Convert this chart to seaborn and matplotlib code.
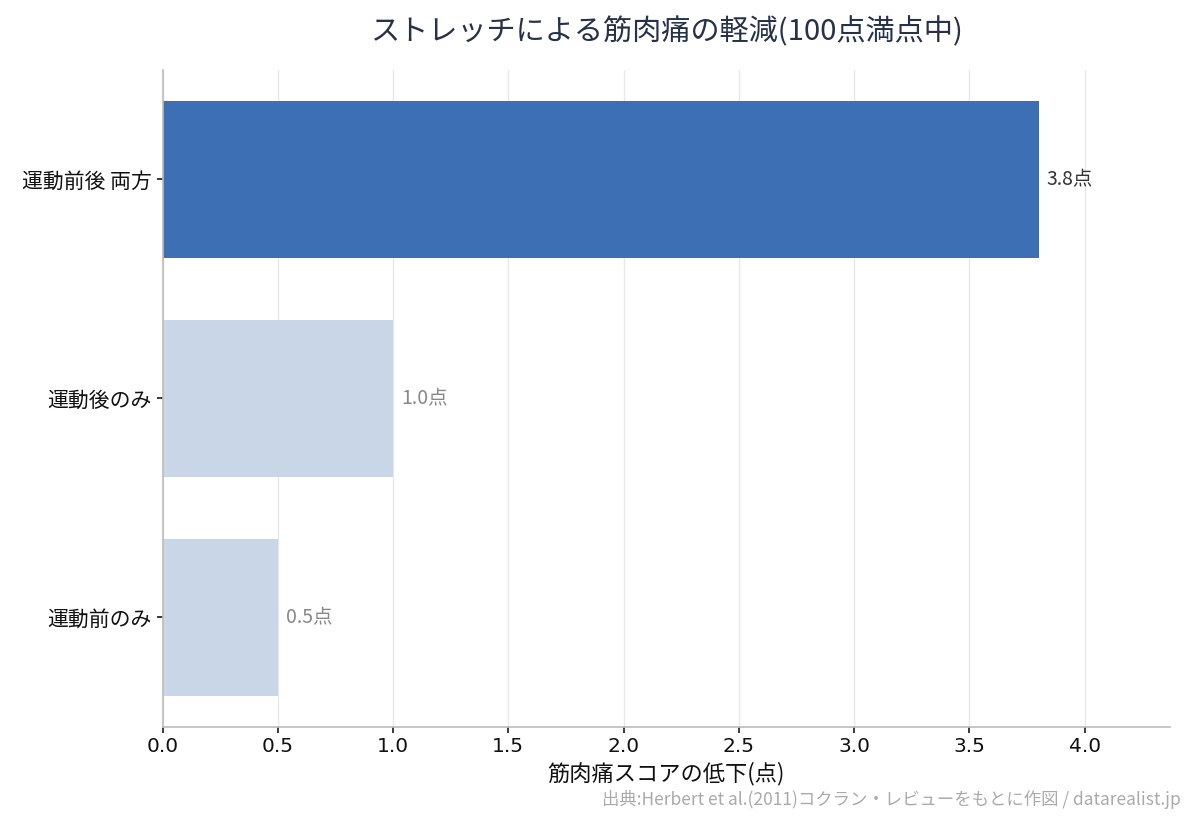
import numpy as np
import pandas as pd
import matplotlib
matplotlib.use('Agg')
import matplotlib.pyplot as plt
import seaborn as sns

# データ
categories = ['運動前後 両方', '運動後のみ', '運動前のみ']
values = [3.8, 1.0, 0.5]
label_texts = ['3.8点', '1.0点', '0.5点']
bar_colors = ['#3c6fb4', '#c9d6e8', '#c9d6e8']
label_colors = ['#333333', '#888888', '#888888']
xticks = [0.0, 0.5, 1.0, 1.5, 2.0, 2.5, 3.0, 3.5, 4.0]

sns.set_theme(style='white')
plt.rcParams['font.family'] = ['Noto Sans CJK JP', 'DejaVu Sans']
plt.rcParams['axes.unicode_minus'] = False

df = pd.DataFrame({'cat': categories, 'val': values})

fig, ax = plt.subplots(figsize=(11.95, 8.24), dpi=100)
fig.subplots_adjust(left=0.136, right=0.979, top=0.915, bottom=0.118)

sns.barplot(data=df, x='val', y='cat', hue='cat', palette=bar_colors,
            saturation=1, linewidth=0, legend=False, width=0.72, ax=ax, zorder=2)

for i, (v, t, c) in enumerate(zip(values, label_texts, label_colors)):
    ax.text(v + 0.035, i, t, va='center', ha='left', fontsize=14, color=c)

ax.set_xlim(0, max(values) * 1.15)
ax.set_ylim(2.5, -0.5)
ax.set_xticks(xticks)
ax.set_xticklabels([f'{x:.1f}' for x in xticks])
ax.tick_params(axis='x', bottom=True, length=4, color='#222222',
               labelsize=14.5, labelcolor='#111111', labelfontfamily='DejaVu Sans')
ax.tick_params(axis='y', left=True, length=4, color='#222222',
               labelsize=15, labelcolor='#111111')
ax.xaxis.grid(True, color='#e8e8e8', linewidth=1, zorder=0)
ax.set_axisbelow(True)

for s in ['top', 'right']:
    ax.spines[s].set_visible(False)
for s in ['left', 'bottom']:
    ax.spines[s].set_color('#bbbbbb')
    ax.spines[s].set_linewidth(1.2)

ax.set_ylabel('')
ax.set_xlabel('筋肉痛スコアの低下(点)', fontsize=16, color='#111111', labelpad=4)
ax.set_title('ストレッチによる筋肉痛の軽減(100点満点中)', fontsize=21,
             color='#253247', pad=21)

fig.text(0.988, 0.018, '出典:Herbert et al.(2011)コクラン・レビューをもとに作図 / datarealist.jp',
         ha='right', va='bottom', fontsize=12.5, color='#aaaaaa')

fig.savefig('out.png', dpi=100)
